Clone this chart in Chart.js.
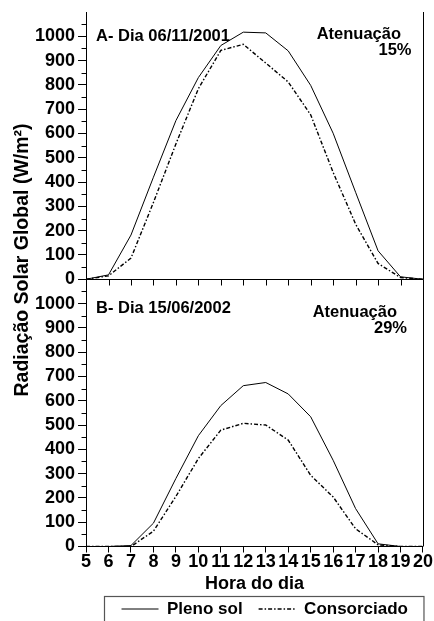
<!DOCTYPE html>
<html>
<head>
<meta charset="utf-8">
<script src="https://cdn.jsdelivr.net/npm/chart.js@4.4.1/dist/chart.umd.min.js"></script>
<style>
html,body{margin:0;padding:0;background:#fff;}
#wrap{width:434px;height:621px;position:relative;}
canvas{display:block;}
</style>
</head>
<body>
<div id="wrap"><canvas id="c" width="434" height="621" style="width:434px;height:621px"></canvas></div>
<script>
// ---- data ----
const hours = [5,6,7,8,9,10,11,12,13,14,15,16,17,18,19,20];
const plenoSolA    = [0,18,182,420,653,830,962,1017,1014,940,798,601,358,117,10,0];
const consorciadoA = [0,14,87,316,557,784,942,967,890,812,677,440,227,65,7,0];
const plenoSolB    = [0,0,4,96,280,456,580,662,675,628,534,355,156,11,0,0];
const consorciadoB = [0,0,0,63,206,362,479,507,500,438,293,204,73,7,0,0];
const seriesNames = ['Pleno sol','Consorciado'];
const panelTitles = ['A- Dia 06/11/2001','B- Dia 15/06/2002'];
const attenuationLabel = 'Atenuação';
const attenuationValues = ['15%','29%'];
const yTickMax = 1000;
const yAxisTitle = 'Radiação Solar Global (W/m²)';
const xAxisTitle = 'Hora do dia';

const FONT = "'Liberation Sans', Arial, sans-serif";
Chart.defaults.font.family = FONT;
Chart.defaults.font.weight = 'bold';
Chart.defaults.color = '#000';

const solid = {borderColor:'#000', borderWidth:1, borderDash:[], pointRadius:0, tension:0, fill:false};
const dashed = {borderColor:'#000', borderWidth:1.4, borderDash:[4,2,1.5,2], pointRadius:0, tension:0, fill:false};

function yScale(){
  return {
    type:'linear', position:'left', stack:'panels', stackWeight:1,
    min:0, max:1100,
    ticks:{stepSize:50, autoSkip:false, padding:3, color:'#000',
      font:{size:18, weight:'bold', lineHeight:1},
      callback:(v)=> (v%100===0 && v<=yTickMax) ? String(v) : ''},
    grid:{drawOnChartArea:false, drawTicks:true, tickLength:8, tickWidth:1,
      tickColor:(ctx)=> (ctx.tick && ctx.tick.value%100===0 && ctx.tick.value<=yTickMax) ? '#000' : 'rgba(0,0,0,0)'},
    border:{display:true, color:'#000', width:1}
  };
}

const decor = {
  id:'decor',
  afterDraw(chart){
    const ctx = chart.ctx;
    const x = chart.scales.x, yA = chart.scales.yA, yB = chart.scales.yB;
    ctx.save();
    ctx.strokeStyle = '#000';
    ctx.lineWidth = 1;
    ctx.setLineDash([]);
    [yA,yB].forEach(s=>{
      s.ticks.forEach(t=>{
        if (t.value%100!==0 && t.value<1100){
          const py = Math.round(s.getPixelForValue(t.value))+0.5;
          ctx.beginPath(); ctx.moveTo(s.right-4.5,py); ctx.lineTo(s.right,py); ctx.stroke();
        }
      });
    });
    const py0 = Math.round(yA.getPixelForValue(0))+0.5;
    ctx.beginPath(); ctx.moveTo(x.left,py0); ctx.lineTo(x.right,py0); ctx.stroke();
    x.ticks.forEach(t=>{
      const px = Math.round(x.getPixelForValue(t.value))+0.5;
      ctx.beginPath(); ctx.moveTo(px,py0); ctx.lineTo(px,py0+6); ctx.stroke();
    });
    const rx = Math.round(x.right)+0.5;
    ctx.beginPath(); ctx.moveTo(rx,yA.top); ctx.lineTo(rx,yB.bottom); ctx.stroke();

    ctx.fillStyle = '#000';
    ctx.font = 'bold 16.5px ' + FONT;
    ctx.textBaseline = 'alphabetic';
    ctx.textAlign = 'left';
    ctx.fillText(panelTitles[0], x.left+10, yA.top+28.5);
    ctx.fillText(panelTitles[1], x.left+10, yB.top+33.5);
    ctx.textAlign = 'right';
    ctx.fillText(attenuationLabel, x.right-22, yA.top+27);
    ctx.fillText(attenuationValues[0], x.right-11.5, yA.top+42.5);
    ctx.fillText(attenuationLabel, x.right-26, yB.top+37.5);
    ctx.fillText(attenuationValues[1], x.right-16, yB.top+54);

    ctx.save();
    ctx.font = 'bold 19.5px ' + FONT;
    ctx.textAlign = 'center';
    ctx.textBaseline = 'middle';
    ctx.translate(23, 260);
    ctx.rotate(-Math.PI/2);
    ctx.fillText(yAxisTitle, 0, 0);
    ctx.restore();

    const lg = chart.legend;
    if (lg && lg.legendHitBoxes && lg.legendHitBoxes.length){
      const hb = lg.legendHitBoxes;
      const l = hb[0].left - 18;
      const last = hb[hb.length-1];
      const r = last.left + last.width + 15;
      const cy = hb[0].top + hb[0].height/2;
      ctx.strokeStyle = '#555';
      ctx.lineWidth = 1.2;
      ctx.strokeRect(Math.round(l)+0.5, Math.round(cy-12.7)+0.5, r-l, 60);
    }
    ctx.restore();
  }
};

new Chart(document.getElementById('c'), {
  type:'line',
  data:{
    labels: hours,
    datasets:[
      Object.assign({label:seriesNames[0], data:plenoSolB, xAxisID:'x', yAxisID:'yB'}, solid),
      Object.assign({label:seriesNames[1], data:consorciadoB, xAxisID:'x', yAxisID:'yB'}, dashed),
      Object.assign({label:seriesNames[0]+' A', data:plenoSolA, xAxisID:'x', yAxisID:'yA'}, solid),
      Object.assign({label:seriesNames[1]+' A', data:consorciadoA, xAxisID:'x', yAxisID:'yA'}, dashed)
    ]
  },
  options:{
    responsive:false,
    animation:false,
    devicePixelRatio:1,
    layout:{padding:{left:32, right:10, top:1, bottom:-6.5}},
    plugins:{
      tooltip:{enabled:false},
      legend:{
        display:true, position:'bottom', align:'end',
        labels:{
          usePointStyle:true, pointStyle:'line', pointStyleWidth:37,
          color:'#000', padding:16,
          font:{size:17, weight:'bold', lineHeight:1},
          generateLabels:(chart)=>{
            const items = Chart.defaults.plugins.legend.labels.generateLabels(chart);
            return items.filter(it=>it.datasetIndex<2).map(it=>{
              const ds = chart.data.datasets[it.datasetIndex];
              it.lineDash = ds.borderDash;
              it.lineWidth = ds.borderWidth;
              it.strokeStyle = ds.borderColor;
              it.fillStyle = ds.borderColor;
              it.pointStyle = 'line';
              return it;
            });
          }
        }
      }
    },
    scales:{
      x:{
        type:'linear', position:'bottom', min:5, max:20,
        ticks:{stepSize:1, autoSkip:false, maxRotation:0, padding:1, color:'#000',
          font:{size:18, weight:'bold', lineHeight:1}},
        grid:{drawOnChartArea:false, drawTicks:true, tickLength:6, color:'#000'},
        border:{display:true, color:'#000', width:1},
        title:{display:true, text:xAxisTitle, color:'#000',
          font:{size:18, weight:'bold', lineHeight:1}, padding:{top:3, bottom:-9}}
      },
      yB: yScale(),
      yA: yScale()
    }
  },
  plugins:[decor]
});
</script>
</body>
</html>
